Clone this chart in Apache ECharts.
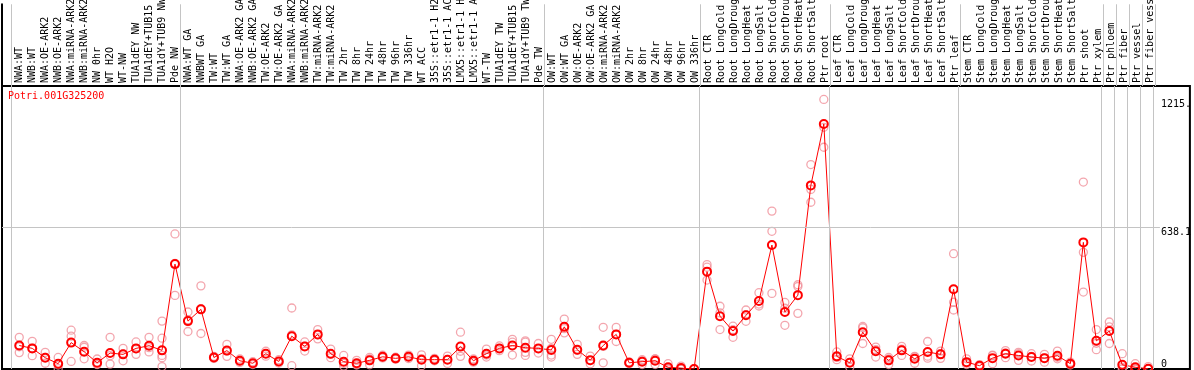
<!DOCTYPE html>
<html>
<head>
<meta charset="utf-8">
<script src="https://cdn.jsdelivr.net/npm/echarts@6/dist/echarts.min.js"></script>
<style>
  body { margin: 0; background: #fff; }
  #main { width: 1194px; height: 370px; }
</style>
</head>
<body>
<div id="main"></div>
<script>
  /* 데이터 */
  var categories = [
    'NWA:WT', 'NWB:WT', 'NWA:OE-ARK2', 'NWB:OE-ARK2', 'NWA:miRNA-ARK2', 'NWB:miRNA-ARK2', 'NW 0hr', 'WT H2O', 'WT-NW',
    'TUA1dEY NW', 'TUA1dEY+TUB15', 'TUA1dY+TUB9 NW', 'Pde NW',
    'NWA:WT GA', 'NWBWT GA', 'TW:WT', 'TW:WT GA', 'NWA:OE-ARK2 GA', 'NWB:OE-ARK2 GA', 'TW:OE-ARK2', 'TW:OE-ARK2 GA',
    'NWA:miRNA-ARK2', 'NWB:miRNA-ARK2', 'TW:miRNA-ARK2', 'TW:miRNA-ARK2', 'TW 2hr', 'TW 8hr', 'TW 24hr', 'TW 48hr',
    'TW 96hr', 'TW 336hr', 'WT ACC', '35S::etr1-1 H2', '35S::etr1-1 AC', 'LMX5::etr1-1 H', 'LMX5::etr1-1 A', 'WT-TW',
    'TUA1dEY TW', 'TUA1dEY+TUB15', 'TUA1dY+TUB9 TW', 'Pde TW',
    'OW:WT', 'OW:WT GA', 'OW:OE-ARK2', 'OW:OE-ARK2 GA', 'OW:miRNA-ARK2', 'OW:miRNA-ARK2', 'OW 2hr', 'OW 8hr', 'OW 24hr',
    'OW 48hr', 'OW 96hr', 'OW 336hr',
    'Root CTR', 'Root LongCold', 'Root LongDroug', 'Root LongHeat', 'Root LongSalt', 'Root ShortCold', 'Root ShortDrou',
    'Root ShortHeat', 'Root ShortSalt', 'Ptr root',
    'Leaf CTR', 'Leaf LongCold', 'Leaf LongDroug', 'Leaf LongHeat', 'Leaf LongSalt', 'Leaf ShortCold', 'Leaf ShortDrou',
    'Leaf ShortHeat', 'Leaf ShortSalt', 'Ptr leaf',
    'Stem CTR', 'Stem LongCold', 'Stem LongDroug', 'Stem LongHeat', 'Stem LongSalt', 'Stem ShortCold', 'Stem ShortDrou',
    'Stem ShortHeat', 'Stem ShortSalt', 'Ptr shoot', 'Ptr xylem',
    'Ptr phloem', 'Ptr fiber', 'Ptr vessel', 'Ptr fiber vess'
  ];

  // 평균값 (빨간 선)
  var meanValues = [
    106, 93, 51, 24, 119, 78, 28, 72, 66, 93, 105, 84, 473,
    216, 269, 52, 83, 37, 26, 69, 34, 148, 102, 156, 69, 33, 26, 39, 55, 48, 55, 42, 42, 42, 101, 37, 69, 93, 106, 96, 93,
    86, 190, 87, 40, 106, 156, 28, 33, 37, 8, 4, 0,
    439, 238, 171, 242, 307, 559, 257, 333, 828, 1105,
    57, 28, 166, 80, 39, 84, 46, 77, 66, 360,
    31, 15, 49, 69, 61, 54, 49, 60, 24, 571, 127,
    171, 19, 8, 1
  ];

  // 반복 측정값 (분홍 원)
  var rep1 = [
    143, 125, 75, 52, 175, 106, 45, 143, 93, 122, 143, 216, 609,
    257, 375, 57, 111, 45, 33, 80, 42, 275, 122, 178, 90, 61, 39, 52, 62, 53, 63, 64, 48, 58, 166, 45, 90, 104, 134, 127, 115,
    134, 225, 111, 58, 188, 188, 32, 42, 46, 24, 13, 1,
    471, 283, 193, 266, 344, 712, 300, 380, 922, 1215.5,
    77, 46, 192, 99, 20, 102, 26, 124, 81, 520,
    46, 20, 63, 83, 75, 69, 66, 81, 31, 843, 178,
    212, 69, 24, 11
  ];
  var rep2 = [
    74, 60, 26, 2, 148, 98, 20, 22, 37, 66, 77, 139, 332,
    169, 160, 50, 57, 30, 20, 58, 27, 15, 81, 136, 51, 13, 18, 19, 50, 44, 47, 15, 37, 25, 80, 31, 54, 83, 63, 75, 72,
    63, 163, 66, 24, 28, 124, 24, 20, 20, 2, 0, 0,
    459, 178, 143, 215, 284, 621, 197, 372, 810, 1090,
    42, 8, 186, 54, 45, 61, 55, 49, 48, 301,
    20, 10, 24, 51, 39, 36, 31, 46, 18, 526, 87,
    190, 8, 0, 0
  ];
  var rep3 = [
    100, 94, 52, 18, 34, 46, 22, 60, 68, 92, 96, 61, 476,
    222, 272, 48, 81, 36, 25, 69, 33, 154, 103, 154, 66, 25, 21, 46, 53, 47, 55, 47, 41, 43, 57, 35, 63, 92, 121, 61, 92,
    54, 182, 84, 38, 102, 156, 28, 37, 45, 0, 0, 0,
    401, 253, 177, 245, 293, 341, 274, 251, 752, 1000,
    52, 30, 115, 87, 52, 89, 57, 58, 69, 266,
    27, 15, 60, 73, 69, 57, 50, 53, 23, 347, 116,
    115, 0, 0, 0
  ];
  // 반복이 3개보다 많은 샘플 [인덱스, 값]
  var extraReps = [[11, 51], [11, 11], [39, 121], [41, 93]];

  // 그룹 시작 인덱스 (세로 회색 선)
  var groupStarts = [0, 13, 41, 53, 63, 73, 84, 85, 86, 87, 88];

  // y축 눈금
  var yMax = 1276.2;
  var yTickValues = [638.1, 1215.5];
  var yTickLabels = ['638.1', '1215.'];
  var yZeroLabel = '0';

  /* 차트 */
  var myChart = echarts.init(document.getElementById('main'));

  var XMIN = -1.33, XMAX = 90.21;
  var monoFont = 'DejaVu Sans Mono';

  var repPoints = [];
  [rep1, rep2, rep3].forEach(function (rep) {
    rep.forEach(function (v, i) {
      if (v != null) repPoints.push([i, v]);
    });
  });
  extraReps.forEach(function (p) { repPoints.push(p); });

  var meanPoints = meanValues.map(function (v, i) { return [i, v]; });
  var catIndex = categories.map(function (c, i) { return i; });

  var groupLines = groupStarts.map(function (s) { return { xAxis: s - 0.62 }; });
  var gridLineStyle = { color: '#c4c4c4', width: 1, type: 'solid' };

  var option = {
    animation: false,
    title: {
      text: 'Potri.001G325200',
      left: 8,
      top: 91,
      padding: 0,
      textStyle: { color: '#ff0000', fontSize: 10, fontWeight: 'normal', fontFamily: monoFont }
    },
    grid: [
      { left: 2, right: 2, top: 0, height: 86 },
      { left: 2, right: 2, top: 86, bottom: 1, show: true, borderColor: '#000', borderWidth: 2 }
    ],
    xAxis: [
      {
        type: 'value', gridIndex: 0, min: XMIN, max: XMAX, position: 'bottom',
        axisLine: { show: false }, axisTick: { show: false }, splitLine: { show: false },
        axisLabel: {
          customValues: catIndex,
          formatter: function (v) { return categories[v]; },
          rotate: 90,
          inside: true,
          margin: 3,
          color: '#000',
          fontSize: 10,
          fontFamily: monoFont
        }
      },
      {
        type: 'value', gridIndex: 1, min: XMIN, max: XMAX,
        axisLine: { show: false }, axisTick: { show: false }, splitLine: { show: false },
        axisLabel: { show: false }
      }
    ],
    yAxis: [
      {
        type: 'value', gridIndex: 0, min: 0, max: 1, position: 'left',
        axisLine: { show: true, onZero: false, lineStyle: { color: '#000', width: 2 } },
        axisTick: { show: false }, splitLine: { show: false }, axisLabel: { show: false }
      },
      {
        type: 'value', gridIndex: 1, min: 0, max: yMax, position: 'right',
        axisLine: { show: false }, axisTick: { show: false }, splitLine: { show: false },
        axisLabel: {
          customValues: yTickValues,
          formatter: function (v) { return yTickLabels[yTickValues.indexOf(v)]; },
          inside: true,
          margin: 29,
          align: 'left',
          verticalAlign: 'top',
          color: '#000',
          fontSize: 10,
          fontFamily: monoFont
        }
      },
      {
        type: 'value', gridIndex: 1, min: 0, max: yMax, position: 'right',
        axisLine: { show: false }, axisTick: { show: false }, splitLine: { show: false },
        axisLabel: {
          customValues: [0],
          formatter: function () { return yZeroLabel; },
          inside: true,
          margin: 29,
          align: 'left',
          verticalAlign: 'bottom',
          color: '#000',
          fontSize: 10,
          fontFamily: monoFont
        }
      }
    ],
    series: [
      {
        // 헤더 영역 세로선
        type: 'line', xAxisIndex: 0, yAxisIndex: 0, data: [], z: 1,
        markLine: { silent: true, symbol: 'none', label: { show: false }, lineStyle: gridLineStyle, data: groupLines }
      },
      {
        // 그래프 영역 세로선 + 가로선
        type: 'line', xAxisIndex: 1, yAxisIndex: 1, data: [], z: 1,
        markLine: {
          silent: true, symbol: 'none', label: { show: false }, lineStyle: gridLineStyle,
          data: groupLines.concat([[{ coord: [XMIN, 638.1] }, { coord: [87.9, 638.1] }]])
        }
      },
      {
        name: 'replicates',
        type: 'scatter', xAxisIndex: 1, yAxisIndex: 1, z: 3,
        symbol: 'circle', symbolSize: 8,
        itemStyle: { color: 'rgba(0,0,0,0)', borderColor: '#f0909a', borderWidth: 1.3 },
        data: repPoints
      },
      {
        name: 'mean',
        type: 'line', xAxisIndex: 1, yAxisIndex: 1, z: 4,
        symbol: 'circle', symbolSize: 8,
        lineStyle: { color: '#ff0000', width: 1 },
        itemStyle: { color: 'rgba(0,0,0,0)', borderColor: '#ff0000', borderWidth: 2 },
        data: meanPoints
      }
    ]
  };

  myChart.setOption(option);
</script>
</body>
</html>
